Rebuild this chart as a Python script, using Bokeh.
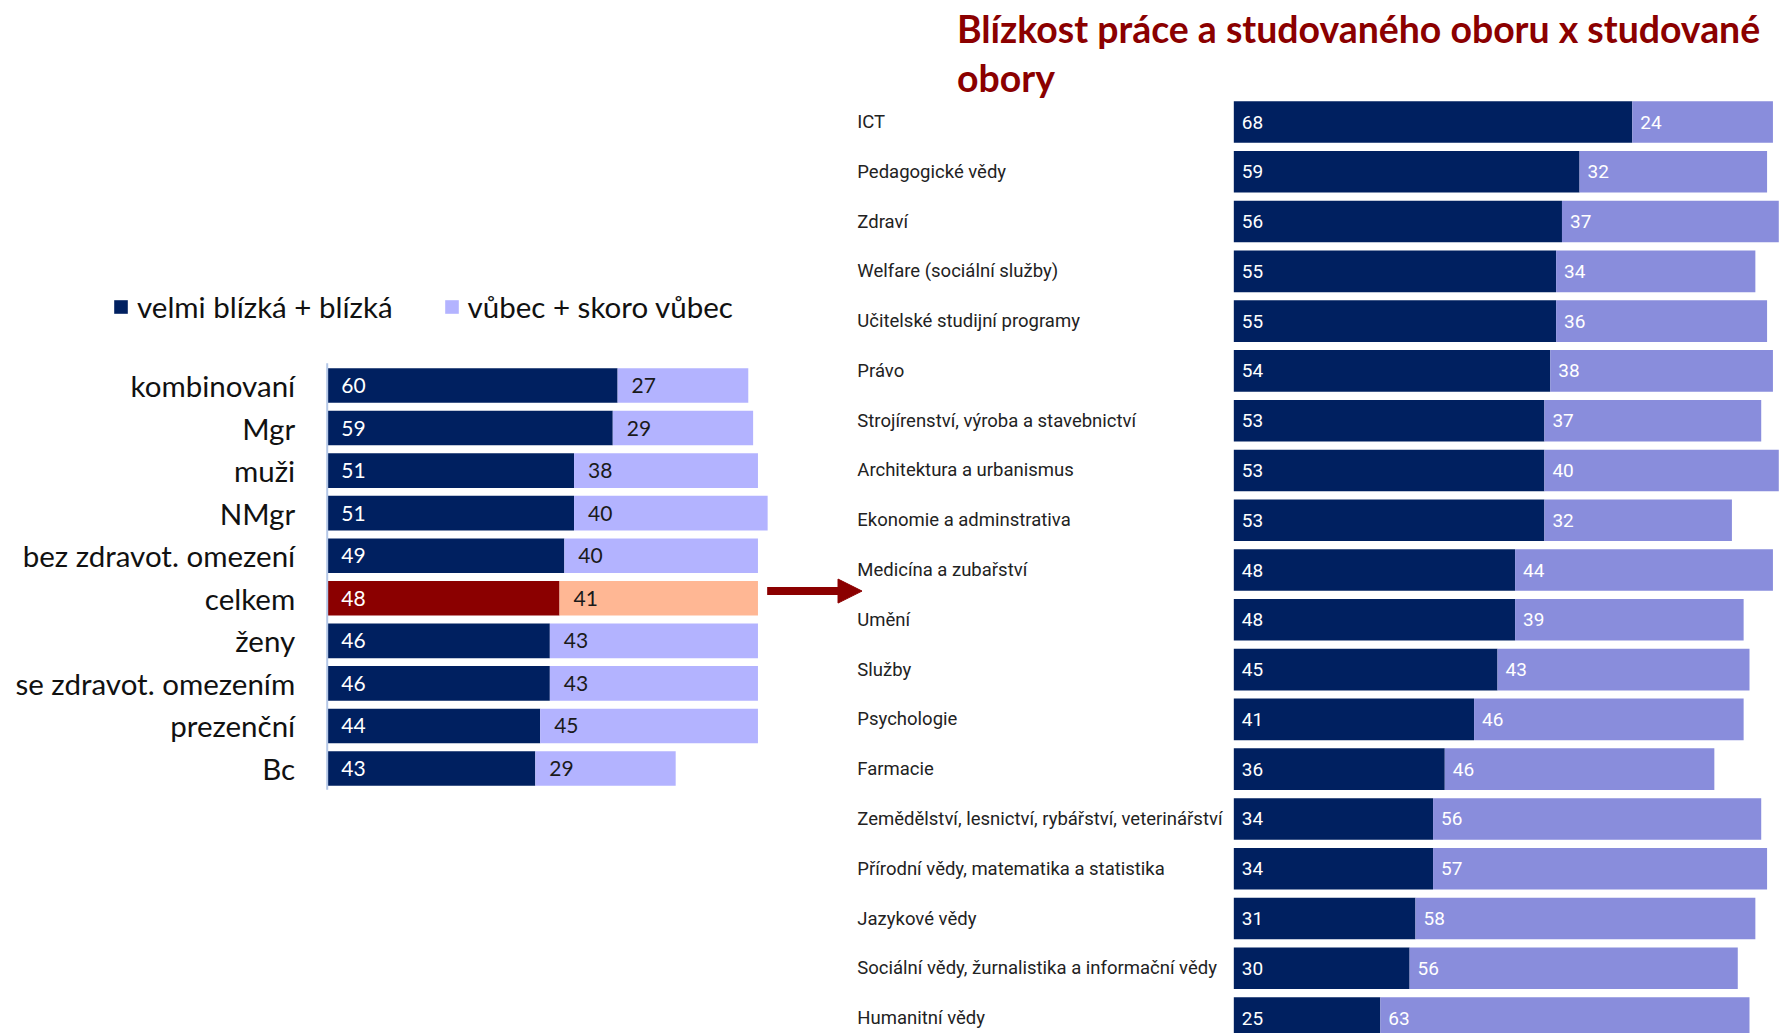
from bokeh.plotting import figure
from bokeh.models import (ColumnDataSource, Range1d, Label, Arrow, NormalHead,
                          Legend, LegendItem)
from bokeh.core.properties import value
from bokeh.embed import file_html
from bokeh.resources import INLINE

# ---------------- data ----------------
left_cats = ["kombinovaní", "Mgr", "muži", "NMgr", "bez zdravot. omezení", "celkem",
             "ženy", "se zdravot. omezením", "prezenční", "Bc"]
left_close = [60, 59, 51, 51, 49, 48, 46, 46, 44, 43]
left_far = [27, 29, 38, 40, 40, 41, 43, 43, 45, 29]
highlight = "celkem"

right_cats = ["ICT", "Pedagogické vědy", "Zdraví", "Welfare (sociální služby)",
              "Učitelské studijní programy", "Právo",
              "Strojírenství, výroba a stavebnictví", "Architektura a urbanismus",
              "Ekonomie a adminstrativa", "Medicína a zubařství", "Umění", "Služby",
              "Psychologie", "Farmacie",
              "Zemědělství, lesnictví, rybářství, veterinářství",
              "Přírodní vědy, matematika a statistika", "Jazykové vědy",
              "Sociální vědy, žurnalistika a informační vědy", "Humanitní vědy"]
right_close = [68, 59, 56, 55, 55, 54, 53, 53, 53, 48, 48, 45, 41, 36, 34, 34, 31, 30, 25]
right_far = [24, 32, 37, 34, 36, 38, 37, 40, 32, 44, 39, 43, 46, 46, 56, 57, 58, 56, 63]

legend_labels = ["velmi blízká + blízká", "vůbec + skoro vůbec"]
title_lines = ["Blízkost práce a studovaného oboru x studované", "obory"]

# ---------------- styles ----------------
NAVY = "#002060"
LIGHT_L = "#B3B3FF"
LIGHT_R = "#898DDC"
RED = "#8B0000"
SALMON = "#FFB794"
TITLE_C = "#8B0000"
LFONT = "Lato"
RFONT = "Roboto"

W, H = 1779, 1033

p = figure(width=W, height=H, output_backend="svg", toolbar_location=None,
           x_range=Range1d(-67.5, 300.06), y_range=Range1d(15.226, -9.046),
           min_border=0, min_border_left=0, min_border_right=0,
           min_border_top=0, min_border_bottom=0)
p.extra_x_ranges = {"xr": Range1d(-210.46, 93.12)}
p.extra_y_ranges = {"yr": Range1d(18.31, -2.4407)}
p.xaxis.visible = False
p.yaxis.visible = False
p.grid.visible = False
p.outline_line_color = None
p.background_fill_color = "white"
p.border_fill_color = "white"

# ---------------- left chart ----------------
n = len(left_cats)
lsrc = ColumnDataSource(dict(
    y=list(range(n)),
    cat=left_cats,
    close=left_close,
    far=left_far,
    total=[a + b for a, b in zip(left_close, left_far)],
    ctxt=[str(v) for v in left_close],
    ftxt=[str(v) for v in left_far],
    ccol=[RED if c == highlight else NAVY for c in left_cats],
    fcol=[SALMON if c == highlight else LIGHT_L for c in left_cats],
))

r_close = p.hbar(y="y", left=0, right="close", height=0.813, source=lsrc,
                 fill_color="ccol", line_color=None)
r_far = p.hbar(y="y", left="close", right="total", height=0.813, source=lsrc,
               fill_color="fcol", line_color=None)

p.text(x=0, y="y", text="ctxt", source=lsrc, x_offset=14,
       text_font=value(LFONT), text_font_size="21px", text_color="white",
       text_baseline="middle", text_align="left")
p.text(x="close", y="y", text="ftxt", source=lsrc, x_offset=14,
       text_font=value(LFONT), text_font_size="21px", text_color="#1a1a1a",
       text_baseline="middle", text_align="left")
p.text(x=0, y="y", text="cat", source=lsrc, x_offset=-32,
       text_font=value(LFONT), text_font_size="29.5px", text_color="#111111",
       text_baseline="middle", text_align="right")

# axis line of the left chart
p.segment(x0=[0], x1=[0], y0=[-0.52], y1=[n - 0.5], line_color="#B4C7E7", line_width=2)

legend = Legend(items=[LegendItem(label=legend_labels[0], renderers=[r_close], index=0),
                       LegendItem(label=legend_labels[1], renderers=[r_far], index=0)],
                orientation="horizontal", location=(112, 709),
                glyph_width=17, glyph_height=17, label_standoff=8, spacing=50,
                padding=0, margin=0, border_line_color=None,
                background_fill_alpha=0,
                label_text_font=LFONT, label_text_font_size="29.5px",
                label_text_color="#111111")
p.add_layout(legend, "center")

# arrow pointing from "celkem" to the right chart
p.add_layout(Arrow(end=NormalHead(size=24, fill_color=RED, line_color=RED),
                   x_start=90.9, y_start=4.83, x_end=110.5, y_end=4.83,
                   line_color=RED, line_width=8))

# ---------------- right chart ----------------
m = len(right_cats)
rsrc = ColumnDataSource(dict(
    y=list(range(m)),
    cat=right_cats,
    close=right_close,
    far=right_far,
    total=[a + b for a, b in zip(right_close, right_far)],
    ctxt=[str(v) for v in right_close],
    ftxt=[str(v) for v in right_far],
))
p.hbar(y="y", left=0, right="close", height=0.836, source=rsrc,
       fill_color=NAVY, line_color=None, x_range_name="xr", y_range_name="yr")
p.hbar(y="y", left="close", right="total", height=0.836, source=rsrc,
       fill_color=LIGHT_R, line_color=None, x_range_name="xr", y_range_name="yr")
p.text(x=0, y="y", text="ctxt", source=rsrc, x_offset=8,
       text_font=value(RFONT), text_font_size="19px", text_color="white",
       text_baseline="middle", text_align="left", x_range_name="xr", y_range_name="yr")
p.text(x="close", y="y", text="ftxt", source=rsrc, x_offset=8,
       text_font=value(RFONT), text_font_size="19px", text_color="white",
       text_baseline="middle", text_align="left", x_range_name="xr", y_range_name="yr")
p.text(x=0, y="y", text="cat", source=rsrc, x_offset=-376.5,
       text_font=value(RFONT), text_font_size="18.5px", text_color="#222222",
       text_baseline="middle", text_align="left", x_range_name="xr", y_range_name="yr")

# ---------------- title ----------------
p.add_layout(Label(x=956.5, y=H - 28, x_units="screen", y_units="screen",
                   text=title_lines[0], text_font=LFONT, text_font_style="bold",
                   text_font_size="37.4px", text_color=TITLE_C, text_baseline="middle"))
p.add_layout(Label(x=956.5, y=H - 77, x_units="screen", y_units="screen",
                   text=title_lines[1], text_font=LFONT, text_font_style="bold",
                   text_font_size="37.4px", text_color=TITLE_C, text_baseline="middle"))

open("out.html", "w").write(file_html(p, INLINE))
